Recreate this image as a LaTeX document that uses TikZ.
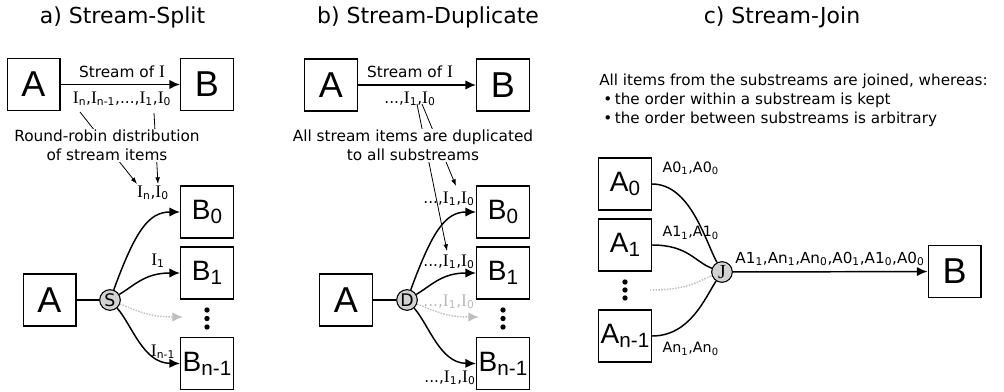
\documentclass[tikz,border=0pt]{standalone}
\usepackage{fontspec}
\setmainfont{DejaVu Sans}
\newfontfamily\srf[Scale=1.15]{Liberation Serif}
\newfontfamily\bxf{Liberation Sans}
\usetikzlibrary{arrows.meta}

% stream item I with a subscript
\newcommand{\It}[1]{{\srf I}\textsubscript{#1}}
\newcommand{\Sb}[1]{\textsubscript{#1}}
% large box letter with a subscript
\newcommand{\BoxSub}[2]{{\fontsize{21}{21}\selectfont #1}\raisebox{-3pt}{\fontsize{15.5}{15.5}\selectfont #2}}

\tikzset{
  blk/.style={draw, line width=1pt, minimum width=39.5pt, minimum height=39pt,
              inner sep=0pt, font=\bxf\fontsize{27}{27}\selectfont},
  sblk/.style={blk, font=\bxf},
  hub/.style={circle, draw, line width=0.8pt, fill=gray!35, minimum size=15.5pt,
              inner sep=0pt, font=\fontsize{13}{13}\selectfont},
  link/.style={line width=1.1pt},
  flow/.style={link, -{Latex[length=8pt,width=7pt]}},
  ghostline/.style={line width=1.1pt, densely dotted, gray!50},
  ghost/.style={ghostline, -{Latex[length=8pt,width=7pt]}},
  note/.style={line width=0.6pt, -{Latex[length=5pt,width=3.5pt]}},
  ttl/.style={font=\fontsize{16.5}{16.5}\selectfont},
  txt/.style={font=\fontsize{11.5}{14.25}\selectfont},
  par/.style={font=\fontsize{11.4}{14.25}\selectfont},
  item/.style={font=\fontsize{11.5}{12}\selectfont, inner sep=1pt},
  lab/.style={font=\fontsize{10.7}{11}\selectfont, inner sep=1pt},
  biglab/.style={font=\fontsize{11.4}{12}\selectfont, inner sep=1pt},
  dotm/.style={fill=black},
}

\begin{document}
\begin{tikzpicture}[x=0.75pt,y=-0.75pt]
\useasboundingbox (0,0) rectangle (1004,392);

%% ---------------- a) Stream-Split ----------------
\node[ttl] (ta) at (122.5,17) {a) Stream-Split};
\node[blk] (aA) at (33.5,84.5) {A};
\node[blk] (aB) at (207,84.5) {B};
\draw[flow] (aA) -- (aB);
\node[txt] (aS) at (122,72) {Stream of {\srf I}};
\node[item] (aI) at (122,99) {\It{n},\It{n-1},...,\It{1},\It{0}};

\coordinate (an1s) at (80,112);
\coordinate (an1e) at (137,184);
\coordinate (an2s) at (154,113);
\coordinate (an2e) at (158,184);
\draw[note] (an1s) -- (an1e);
\draw[note] (an2s) -- (an2e);
\node[txt, fill=white, align=center, inner sep=1pt] (aR) at (107,145.5)
  {Round-robin distribution\\of stream items};

\node[item] (aL0) at (153,193) {\It{n},\It{0}};
\node[item] (aL1) at (158,261) {\It{1}};
\node[item] (aL2) at (163,352) {\It{n-1}};

\node[blk] (aA2) at (49.5,300) {A};
\node[hub] (aSp) at (110,300) {S};
\draw[link] (aA2) -- (aSp);
\node[sblk] (aB0) at (207,212) {\BoxSub{B}{0}};
\node[sblk] (aB1) at (207,273) {\BoxSub{B}{1}};
\node[sblk] (aB2) at (207,363.5) {\BoxSub{B}{n-1}};
\coordinate (aG) at (183,317);
\draw[flow] (aSp) .. controls (135,232) and (148,212) .. (aB0.west);
\draw[flow] (aSp) .. controls (135,285) and (145,273) .. (aB1.west);
\draw[ghost] (aSp) .. controls (140,312) and (150,317) .. (aG);
\draw[flow] (aSp) .. controls (132,325) and (143,363) .. (aB2.west);
\fill[dotm] (207,310) circle (2pt) (207,318.5) circle (2pt) (207,327) circle (2pt);

%% ---------------- b) Stream-Duplicate ----------------
\node[ttl] (tb) at (428,17) {b) Stream-Duplicate};
\node[blk] (bA) at (331,85) {A};
\node[blk] (bB) at (503,85) {B};
\draw[flow] (bA) -- (bB);
\node[txt] (bS) at (410,72) {Stream of {\srf I}};
\node[item] (bI) at (410,99) {...,\It{1},\It{0}};

\coordinate (bn1s) at (417,104);
\coordinate (bn1e) at (447,251);
\coordinate (bn2s) at (422,104);
\coordinate (bn2e) at (456,186);
\draw[note] (bn1s) -- (bn1e);
\draw[note] (bn2s) -- (bn2e);
\node[txt, fill=white, align=center, inner sep=1pt] (bR) at (413,145.5)
  {All stream items are duplicated\\to all substreams};

\node[item] (bL0) at (449,199) {...,\It{1},\It{0}};
\node[item] (bL1) at (449,262) {...,\It{1},\It{0}};
\node[item, text=gray!55] (bLg) at (449,302) {...,\It{1},\It{0}};
\node[item] (bL2) at (450,378) {...,\It{1},\It{0}};

\node[blk] (bA2) at (346,300) {A};
\node[hub] (bD) at (407,300) {D};
\draw[link] (bA2) -- (bD);
\node[sblk] (bB0) at (503,212) {\BoxSub{B}{0}};
\node[sblk] (bB1) at (503,273) {\BoxSub{B}{1}};
\node[sblk] (bB2) at (503,363.5) {\BoxSub{B}{n-1}};
\coordinate (bG) at (479,317);
\draw[flow] (bD) .. controls (432,232) and (445,212) .. (bB0.west);
\draw[flow] (bD) .. controls (432,285) and (442,273) .. (bB1.west);
\draw[ghost] (bD) .. controls (437,312) and (447,317) .. (bG);
\draw[flow] (bD) .. controls (429,325) and (440,363) .. (bB2.west);
\fill[dotm] (503,310) circle (2pt) (503,318.5) circle (2pt) (503,327) circle (2pt);

%% ---------------- c) Stream-Join ----------------
\node[ttl] (tc) at (782,17) {c) Stream-Join};
\node[par, anchor=north west, align=left, inner sep=0pt] (cT) at (599,74)
  {All items from the substreams are joined, whereas:\\
   \hspace*{3pt}\textbullet\hspace{2pt}the order within a substream is kept\\
   \hspace*{3pt}\textbullet\hspace{2pt}the order between substreams is arbitrary};

\node[sblk] (cA0) at (625,184) {\BoxSub{A}{0}};
\node[sblk] (cA1) at (625,245) {\BoxSub{A}{1}};
\node[sblk] (cA2) at (625,336) {\BoxSub{A}{n-1}};
\fill[dotm] (625,282) circle (2pt) (625,290) circle (2pt) (625,298) circle (2pt);
\node[hub] (cJ) at (722,272) {{\srf J}};
\coordinate (cG) at (650,290);
\draw[link] (cA0.east) .. controls (690,184) and (705,240) .. (cJ);
\draw[link] (cA1.east) .. controls (688,245) and (695,262) .. (cJ);
\draw[ghostline] (cG) .. controls (690,290) and (700,280) .. (cJ);
\draw[link] (cA2.east) .. controls (690,336) and (705,298) .. (cJ);
\node[blk] (cB) at (954.5,271.5) {B};
\draw[flow] (cJ) -- (cB);

\node[lab, anchor=west] (cL0) at (661,168) {A0\Sb{1},A0\Sb{0}};
\node[lab, anchor=west] (cL1) at (661,233) {A1\Sb{1},A1\Sb{0}};
\node[lab, anchor=west] (cL2) at (661,349) {An\Sb{1},An\Sb{0}};
\node[biglab] (cLo) at (830,259) {A1\Sb{1},An\Sb{1},An\Sb{0},A0\Sb{1},A1\Sb{0},A0\Sb{0}};
\end{tikzpicture}
\end{document}
